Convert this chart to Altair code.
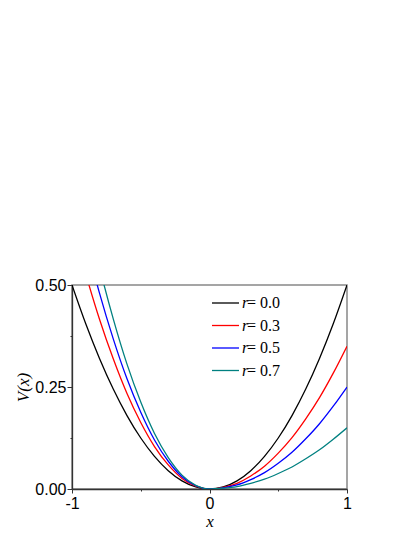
import altair as alt
import pandas as pd

# values
x_vals = [-1.0, -0.9, -0.8, -0.7, -0.6, -0.5, -0.4, -0.3, -0.2, -0.1, 0.0,
          0.1, 0.2, 0.3, 0.4, 0.5, 0.6, 0.7, 0.8, 0.9, 1.0]
v_r00 = [0.500, 0.405, 0.320, 0.245, 0.180, 0.125, 0.080, 0.045, 0.020, 0.005, 0.0,
         0.005, 0.020, 0.045, 0.080, 0.125, 0.180, 0.245, 0.320, 0.405, 0.500]
v_r03 = [0.650, 0.527, 0.416, 0.319, 0.234, 0.163, 0.104, 0.059, 0.026, 0.007, 0.0,
         0.004, 0.014, 0.032, 0.056, 0.088, 0.126, 0.172, 0.224, 0.284, 0.350]
v_r05 = [0.750, 0.608, 0.480, 0.368, 0.270, 0.188, 0.120, 0.068, 0.030, 0.008, 0.0,
         0.003, 0.010, 0.023, 0.040, 0.063, 0.090, 0.123, 0.160, 0.203, 0.250]
v_r07 = [0.850, 0.689, 0.544, 0.417, 0.306, 0.213, 0.136, 0.077, 0.034, 0.009, 0.0,
         0.002, 0.006, 0.014, 0.024, 0.038, 0.054, 0.074, 0.096, 0.122, 0.150]

r_labels = ["0.0", "0.3", "0.5", "0.7"]
colors = ["#000000", "#ff0000", "#0000ff", "#008080"]
series = [v_r00, v_r03, v_r05, v_r07]

SANS = "Liberation Sans, Arial, sans-serif"
SERIF = "Liberation Serif, Times New Roman, serif"

rows = []
for lab, vals in zip(r_labels, series):
    for xv, yv in zip(x_vals, vals):
        rows.append({"x": xv, "V": yv, "r": lab})
df = pd.DataFrame(rows)

x_axis = alt.Axis(
    values=[-1, -0.5, 0, 0.5, 1],
    labelExpr="datum.value % 1 === 0 ? '' + datum.value : ''",
    tickSize={"condition": {"test": "datum.value % 1 === 0", "value": 4}, "value": 2},
    grid=False, domainColor="#333333", tickColor="#333333", domainWidth=1.3,
    labelFont=SANS, labelFontSize=16, labelColor="#000000",
    labelPadding=2, title="x", titleFont=SERIF, titleFontStyle="italic",
    titleFontWeight="normal", titleFontSize=17, titleColor="#000000", titlePadding=2,
    labelFlush=False,
)
y_axis = alt.Axis(
    values=[0, 0.125, 0.25, 0.375, 0.5],
    labelExpr="(datum.value * 4) % 1 === 0 ? format(datum.value, '.2f') : ''",
    tickSize={"condition": {"test": "(datum.value * 4) % 1 === 0", "value": 5}, "value": 2},
    grid=False, domainColor="#333333", tickColor="#333333", domainWidth=1.3,
    labelFont=SANS, labelFontSize=16, labelColor="#000000",
    labelPadding=1, title="V(x)", titleFont=SERIF, titleFontStyle="italic",
    titleFontWeight="normal", titleFontSize=17, titleColor="#000000", titlePadding=2,
    labelFlush=False,
)

lines = alt.Chart(df).mark_line(clip=True, strokeWidth=1.3, interpolate="monotone").encode(
    x=alt.X("x:Q", scale=alt.Scale(domain=[-1, 1], nice=False), axis=x_axis),
    y=alt.Y("V:Q", scale=alt.Scale(domain=[0, 0.5], nice=False), axis=y_axis),
    color=alt.Color("r:N", scale=alt.Scale(domain=r_labels, range=colors), legend=None),
    detail="r:N",
)

layers = [lines]
row_y = [18, 40.5, 63, 85.5]
for lab, col, yy in zip(r_labels, colors, row_y):
    one = pd.DataFrame({"r": [lab]})
    base = alt.Chart(one)
    layers.append(base.mark_rule(color=col, strokeWidth=1.3).encode(
        x=alt.value(140), x2=alt.value(167), y=alt.value(yy)))
    layers.append(base.mark_text(align="left", baseline="middle", font=SERIF,
                                 fontSize=16, fontStyle="italic", color="#000000").encode(
        x=alt.value(170), y=alt.value(yy), text=alt.value("r")))
    layers.append(base.mark_text(align="left", baseline="middle", font=SERIF,
                                 fontSize=16, color="#000000").encode(
        x=alt.value(175), y=alt.value(yy), text=alt.value("= " + lab)))

chart = alt.layer(*layers).properties(
    width=275, height=204,
    autosize=alt.AutoSizeParams(type="none"),
    padding={"left": 64, "top": 277, "right": 50, "bottom": 46},
).configure_view(stroke="#888888", strokeWidth=1.5)

chart.save("out.html", embed_options={"renderer": "svg", "actions": False})
